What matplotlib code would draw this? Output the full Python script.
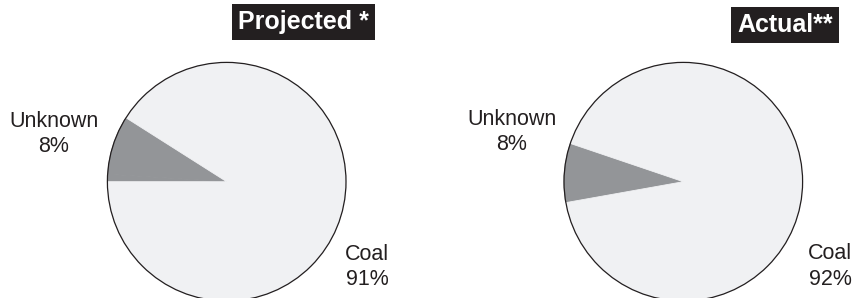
import matplotlib
matplotlib.use("Agg")
import matplotlib.pyplot as plt
from matplotlib.patches import Circle

# ── Data ─────────────────────────────────────────────────────────────────────
titles = ["Projected *", "Actual**"]
slice_names = ["Unknown", "Other", "Coal"]
projected = [8, 1, 91]      # unlabelled 1% sits next to the unknown share
actual = [8, 0, 92]
label_text = [["Unknown\n8%", "Coal\n91%"], ["Unknown\n8%", "Coal\n92%"]]

# ── Styling ──────────────────────────────────────────────────────────────────
LIGHT = "#f0f1f3"
GREY = "#939598"
INK = "#231f20"
FONT = "Liberation Sans"

W, H = 864, 298
fig = plt.figure(figsize=(W / 100, H / 100), dpi=100, facecolor="white")

# pie centre (px), radius (px), start angle, label positions (pie units), title centre (px)
layout = [
    dict(cx=226.7, cy=181.7, r=119.3, start=147.6,
         unk=(-1.448, 0.40), coal=(1.176, -0.715), title=(303.5, 22.4)),
    dict(cx=683.3, cy=181.7, r=119.3, start=161.3,
         unk=(-1.436, 0.417), coal=(1.23, -0.71), title=(785.0, 24.9)),
]

for values, lay, title, labs in zip([projected, actual], layout, titles, label_text):
    ax = fig.add_axes([(lay["cx"] - lay["r"]) / W,
                       (H - lay["cy"] - lay["r"]) / H,
                       2 * lay["r"] / W, 2 * lay["r"] / H])
    wedges, _ = ax.pie(values, colors=[GREY, GREY, LIGHT], startangle=lay["start"],
                       counterclock=True, radius=1.0)
    for w in wedges:
        # edge in the fill colour hides the seam between neighbouring wedges
        w.set_edgecolor(w.get_facecolor())
        w.set_linewidth(0.6)
        w.set_clip_on(False)
    ax.add_patch(Circle((0, 0), 1.0, fill=False, edgecolor=INK, linewidth=0.9,
                        clip_on=False, zorder=5))
    ax.set_xlim(-1, 1)
    ax.set_ylim(-1, 1)
    ax.set_aspect("equal")
    ax.axis("off")

    ax.text(*lay["unk"], labs[0], ha="center", va="center", fontsize=15.5,
            family=FONT, color=INK, linespacing=1.3, clip_on=False)
    ax.text(*lay["coal"], labs[1], ha="center", va="center", fontsize=15.5,
            family=FONT, color=INK, linespacing=1.3, clip_on=False)

    tx, ty = lay["title"]
    fig.text(tx / W, 1 - ty / H, title, ha="center", va="center",
             fontsize=18, fontweight="bold", family=FONT, color="white",
             bbox=dict(boxstyle="square,pad=0.24", facecolor=INK, edgecolor="none"))

fig.savefig("out.png", dpi=100, facecolor="white")
